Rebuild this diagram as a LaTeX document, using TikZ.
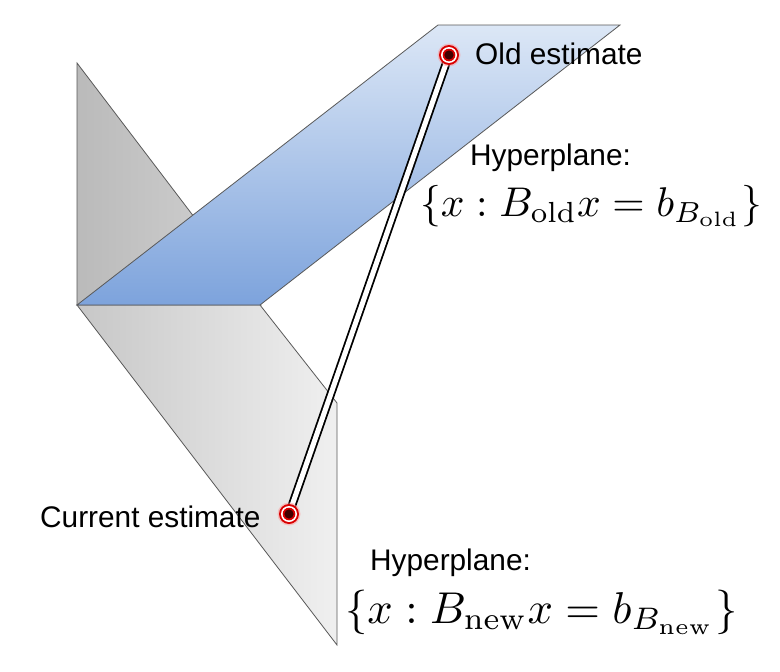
\documentclass[tikz,border=0pt]{standalone}
\usepackage[no-math]{fontspec}
\setmainfont{Liberation Sans}
\usepackage{graphicx}
\begin{document}
\begin{tikzpicture}[x=1pt,y=-1pt,
  planeedge/.style={draw=black!65,line width=0.8pt,line join=miter},
  lbl/.style={inner sep=0pt,font=\fontsize{29.8}{34}\selectfont},
  marker/.pic={
    \fill[red!40!white,opacity=0.5] (0,0) circle (11.5);
    \fill[red!85!black] (0,0) circle (10);
    \fill[white] (0,0) circle (8);
    \fill[red!85!black] (0,0) circle (6.3);
    \fill[black!75!red] (0,0) circle (4.6);
  }]
\useasboundingbox (0,0) rectangle (780,672);
% back vertical plane
\shade[left color=black!27,right color=black!17,planeedge] (77,63) -- (261,305) -- (77,305) -- cycle;
% lower plane
\shade[left color=black!22,right color=black!6,planeedge] (77,305) -- (260,305) -- (337,403) -- (337,645) -- cycle;
% blue plane
\shade[bottom color={rgb,255:red,125;green,163;blue,220},top color={rgb,255:red,220;green,231;blue,246},planeedge] (77,305) -- (260,305) -- (620,25) -- (438,25) -- cycle;
% estimates
\coordinate (old) at (449,55);
\coordinate (cur) at (289,514);
\draw[double=white,double distance=5pt,line width=1.8pt] (old) -- (cur);
\pic at (old) {marker};
\pic at (cur) {marker};
% labels
\node[lbl,anchor=base west] (oldlbl) at (475,64) {Old estimate};
\node[lbl,anchor=base west] (curlbl) at (40,527) {Current estimate};
\node[lbl,anchor=base west] (hp1) at (470,165) {Hyperplane:};
\node[lbl,anchor=base west] (hp2) at (370,570) {Hyperplane:};
\node[inner sep=0pt,anchor=west] (m1) at (420,206) {\resizebox{342pt}{!}{$\{x : B_{\mathrm{old}}x = b_{B_{\mathrm{old}}}\}$}};
\node[inner sep=0pt,anchor=west] (m2) at (345,612) {\resizebox{392pt}{!}{$\{x : B_{\mathrm{new}}x = b_{B_{\mathrm{new}}}\}$}};
\end{tikzpicture}
\end{document}
